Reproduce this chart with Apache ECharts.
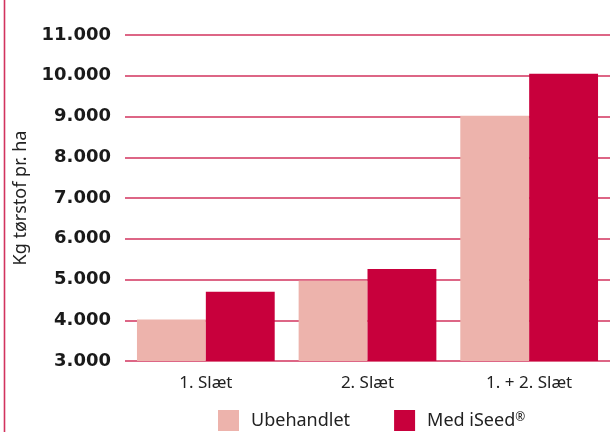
<!DOCTYPE html>
<html><head><meta charset="utf-8">
<script src="https://cdn.jsdelivr.net/npm/echarts@6/dist/echarts.min.js"></script>
<style>html,body{margin:0;padding:0;background:#fff}#c{width:610px;height:432px}</style>
</head><body><div id="c"></div>
<script>
const categories = ['1. Slæt', '2. Slæt', '1. + 2. Slæt'];
const seriesNames = ['Ubehandlet', 'Med iSeed®'];
const ubehandlet = [4020, 4970, 9020];
const medISeed = [4700, 5260, 10050];
const yTickLabels = ['3.000','4.000','5.000','6.000','7.000','8.000','9.000','10.000','11.000'];
const yName = 'Kg tørstof pr. ha';

const chart = echarts.init(document.getElementById('c'), null, {renderer: 'canvas'});
chart.setOption({
  animation: false,
  grid: {left: 125, right: -1, top: 35, bottom: 71, containLabel: false},
  legend: {
    data: seriesNames, top: 410, left: 218, itemWidth: 21, itemHeight: 21, itemGap: 44,
    padding: 0, icon: 'rect',
    formatter: n => n.endsWith('®') ? '{a|' + n.slice(0, -1) + '}{s|®}' : '{a|' + n + '}',
    textStyle: {
      fontFamily: 'Noto Sans', fontSize: 18, color: '#222', padding: [0, 0, 0, 7],
      rich: {
        a: {fontFamily: 'Noto Sans', fontSize: 18, color: '#222'},
        s: {fontFamily: 'Noto Sans', fontSize: 12, color: '#222', verticalAlign: 'top', padding: [0, 0, 6, 0]}
      }
    }
  },
  xAxis: {
    type: 'category', data: categories,
    axisLine: {show: false}, axisTick: {show: false},
    axisLabel: {fontFamily: 'Noto Sans', fontSize: 17, color: '#222', margin: 14}
  },
  yAxis: {
    type: 'value', min: 3000, max: 11000, interval: 1000,
    name: yName, nameLocation: 'middle', nameGap: 95, nameRotate: 90,
    nameTextStyle: {fontFamily: 'Noto Sans', fontSize: 18, color: '#222'},
    axisLine: {show: false}, axisTick: {show: false},
    axisLabel: {
      fontFamily: 'DejaVu Sans', fontWeight: 'bold', fontSize: 18, color: '#1a1a1a', margin: 14,
      formatter: v => yTickLabels[Math.round((v - 3000) / 1000)] || ''
    },
    splitLine: {lineStyle: {color: '#d2335e', width: 1.6}}
  },
  series: [
    {name: seriesNames[0], type: 'bar', data: ubehandlet, barGap: '0%', barCategoryGap: '14.8%',
     itemStyle: {color: '#edb3ac'}},
    {name: seriesNames[1], type: 'bar', data: medISeed, barGap: '0%', barCategoryGap: '14.8%',
     itemStyle: {color: '#c8003c'}}
  ],
  graphic: [{type: 'line', shape: {x1: 4.5, y1: 0, x2: 4.5, y2: 432}, style: {stroke: '#d2335e', lineWidth: 1.6}}]
});
</script></body></html>
